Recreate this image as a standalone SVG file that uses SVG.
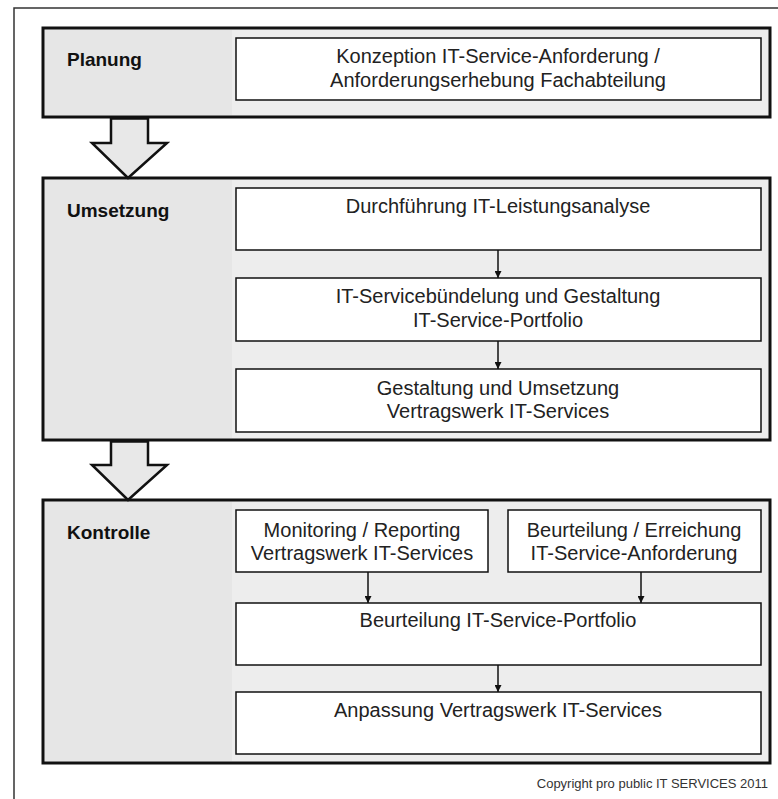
<svg xmlns="http://www.w3.org/2000/svg" width="778" height="799" viewBox="0 0 778 799">
<defs>
<style>
.frame{fill:none;stroke:#333;stroke-width:1.5}
.phase{stroke:#111;stroke-width:3}
.col{fill:#e6e6e6}
.step{fill:#fff;stroke:#111;stroke-width:1.5}
.lbl{font-family:"Liberation Sans",Arial,sans-serif;font-weight:bold;font-size:19px;fill:#111}
.txt{font-family:"Liberation Sans",Arial,sans-serif;font-size:20px;fill:#222;text-anchor:middle}
.big{fill:#e8e8e8;stroke:#111;stroke-width:2.5;stroke-linejoin:miter}
.con{stroke:#111;stroke-width:1.5;fill:none;marker-end:url(#ah)}
.copy{font-family:"Liberation Sans",Arial,sans-serif;font-size:13px;fill:#333;text-anchor:end}
</style>
<marker id="ah" viewBox="0 0 10 10" refX="10" refY="5" markerWidth="7" markerHeight="7" orient="auto" markerUnits="userSpaceOnUse">
<path d="M0,0 L10,5 L0,10 z" fill="#111"/>
</marker>
</defs>
<rect width="778" height="799" fill="#fff"/>
<rect class="frame" x="14" y="8" width="780" height="800"/>

<g id="planung">
<rect class="phase" x="43" y="28" width="727" height="89" fill="#ededed"/>
<rect class="col" x="45" y="30" width="187" height="85"/>
<text class="lbl" x="67" y="66">Planung</text>
</g>
<g id="konzeption">
<rect class="step" x="236" y="38" width="525" height="62"/>
<text class="txt" x="498" y="63">Konzeption IT-Service-Anforderung /</text>
<text class="txt" x="498" y="87">Anforderungserhebung Fachabteilung</text>
</g>

<g id="umsetzung">
<rect class="phase" x="43" y="178" width="727" height="262" fill="#ededed"/>
<rect class="col" x="45" y="180" width="187" height="258"/>
<text class="lbl" x="67" y="217">Umsetzung</text>
</g>
<g id="durchfuehrung">
<rect class="step" x="236" y="188" width="525" height="62"/>
<text class="txt" x="498" y="213">Durchführung IT-Leistungsanalyse</text>
</g>
<g id="buendelung">
<rect class="step" x="236" y="278" width="525" height="63"/>
<text class="txt" x="498" y="303">IT-Servicebündelung und Gestaltung</text>
<text class="txt" x="498" y="327">IT-Service-Portfolio</text>
</g>
<g id="vertragswerk">
<rect class="step" x="236" y="369" width="525" height="63"/>
<text class="txt" x="498" y="395">Gestaltung und Umsetzung</text>
<text class="txt" x="498" y="418">Vertragswerk IT-Services</text>
</g>

<g id="kontrolle">
<rect class="phase" x="43" y="500" width="727" height="263" fill="#ededed"/>
<rect class="col" x="45" y="502" width="187" height="259"/>
<text class="lbl" x="67" y="539">Kontrolle</text>
</g>
<g id="monitoring">
<rect class="step" x="236" y="510" width="252" height="62"/>
<text class="txt" x="362" y="537">Monitoring / Reporting</text>
<text class="txt" x="362" y="560">Vertragswerk IT-Services</text>
</g>
<g id="erreichung">
<rect class="step" x="508" y="510" width="253" height="62"/>
<text class="txt" x="634" y="537">Beurteilung / Erreichung</text>
<text class="txt" x="634" y="560">IT-Service-Anforderung</text>
</g>
<g id="portfolio">
<rect class="step" x="236" y="603" width="525" height="62"/>
<text class="txt" x="498" y="627">Beurteilung IT-Service-Portfolio</text>
</g>
<g id="anpassung">
<rect class="step" x="236" y="692" width="525" height="62"/>
<text class="txt" x="498" y="717">Anpassung Vertragswerk IT-Services</text>
</g>

<g id="connectors">
<polygon class="big" points="111,118.5 148,118.5 148,143 167,143 128,178 92,143 111,143"/>
<polygon class="big" points="111,441.5 148,441.5 148,465 167,465 128,500 92,465 111,465"/>
<line class="con" x1="498" y1="250" x2="498" y2="278"/>
<line class="con" x1="498" y1="341" x2="498" y2="369"/>
<line class="con" x1="368" y1="572" x2="368" y2="603"/>
<line class="con" x1="641" y1="572" x2="641" y2="603"/>
<line class="con" x1="498" y1="665" x2="498" y2="692"/>
</g>

<text class="copy" x="768" y="788">Copyright pro public IT SERVICES 2011</text>
</svg>
